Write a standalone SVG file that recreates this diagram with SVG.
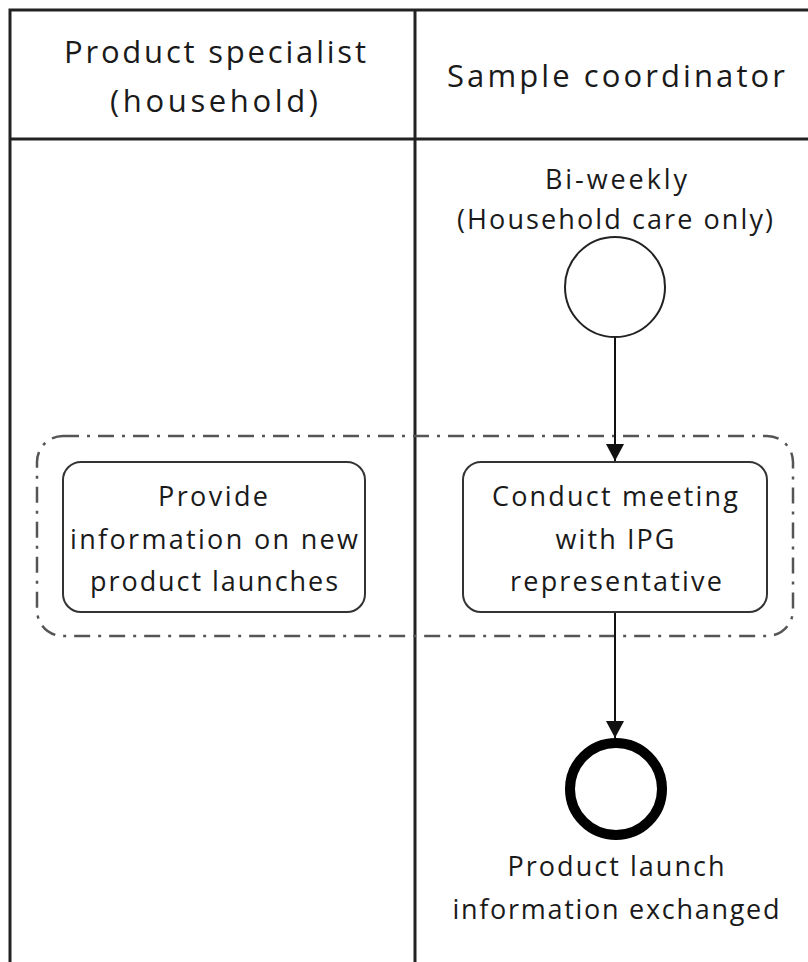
<svg xmlns="http://www.w3.org/2000/svg" width="808" height="962" viewBox="0 0 808 962">
<style>
text{font-family:"Open Sans","Liberation Sans",sans-serif;fill:#1a1a1a;text-anchor:middle}
.hdr{font-size:31px}
.lbl{font-size:27px}
.lane{fill:none;stroke:#222;stroke-width:3}
.task{fill:#fff;stroke:#333;stroke-width:2}
.edge{fill:none;stroke:#111;stroke-width:2}
</style>
<defs>
<marker id="arr" markerWidth="18" markerHeight="18" refX="17" refY="9" orient="auto" markerUnits="userSpaceOnUse">
<path d="M0,0 L17,9 L0,18 Z" fill="#111"/>
</marker>
</defs>
<rect width="808" height="962" fill="#fff"/>
<g id="lanes">
<path class="lane" d="M10,962 V10 H810 M10,139 H810 M415,10 V962"/>
<text class="hdr" x="215" y="63" textLength="302" lengthAdjust="spacing">Product specialist</text>
<text class="hdr" x="214" y="112" textLength="208" lengthAdjust="spacing">(household)</text>
<text class="hdr" x="616" y="87" textLength="338" lengthAdjust="spacing">Sample coordinator</text>
</g>
<g id="group">
<rect x="37" y="436" width="756" height="200" rx="26" fill="none" stroke="#555" stroke-width="2.5" stroke-dasharray="16,8,3,8"/>
</g>
<g id="connectors">
<line class="edge" x1="615" y1="337" x2="615" y2="461" marker-end="url(#arr)"/>
<line class="edge" x1="615" y1="612" x2="615" y2="738" marker-end="url(#arr)"/>
</g>
<g id="start">
<circle cx="615" cy="287" r="50" fill="#fff" stroke="#222" stroke-width="2"/>
<text class="lbl" x="616" y="189" textLength="142" lengthAdjust="spacing">Bi-weekly</text>
<text class="lbl" x="615" y="229" textLength="316" lengthAdjust="spacing">(Household care only)</text>
</g>
<g id="task1">
<rect class="task" x="63" y="462" width="302" height="150" rx="18"/>
<text class="lbl" x="213" y="506" textLength="110" lengthAdjust="spacing">Provide</text>
<text class="lbl" x="214" y="549" textLength="288" lengthAdjust="spacing">information on new</text>
<text class="lbl" x="214" y="591" textLength="248" lengthAdjust="spacing">product launches</text>
</g>
<g id="task2">
<rect class="task" x="463" y="462" width="304" height="150" rx="18"/>
<text class="lbl" x="615" y="506" textLength="246" lengthAdjust="spacing">Conduct meeting</text>
<text class="lbl" x="615" y="549" textLength="119" lengthAdjust="spacing">with IPG</text>
<text class="lbl" x="616" y="591" textLength="212" lengthAdjust="spacing">representative</text>
</g>
<g id="end">
<circle cx="616" cy="789" r="46" fill="#fff" stroke="#000" stroke-width="10"/>
<text class="lbl" x="616" y="876" textLength="217" lengthAdjust="spacing">Product launch</text>
<text class="lbl" x="616" y="919" textLength="327" lengthAdjust="spacing">information exchanged</text>
</g>
</svg>
